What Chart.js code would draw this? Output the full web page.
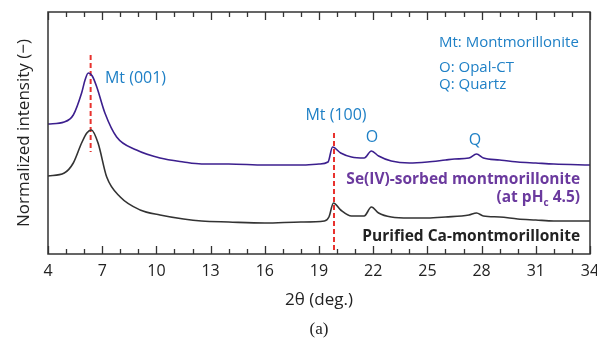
<!DOCTYPE html>
<html>
  <head>
    <meta charset="utf-8" />
    <title>XRD patterns of montmorillonite</title>
    <script src="https://cdn.jsdelivr.net/npm/chart.js@4"></script>
    <style>
      body { margin: 0; background: #fff; }
      #wrap { width: 597px; height: 344px; }
    </style>
  </head>
  <body>
    <div id="wrap"><canvas id="xrdCanvas"></canvas></div>
    <script>
      // 2theta positions and normalized intensity (arbitrary, offset)
      const seTheta = [4.0, 4.9, 5.4, 5.86, 6.05, 6.23, 6.45, 6.7, 7.15, 7.8, 8.9, 10.2, 11.5, 12.5, 14, 16, 18, 19.0, 19.5, 19.75, 20.2, 20.8, 21.5, 21.9, 22.3, 23, 24, 25, 26, 26.5, 27.3, 27.72, 28.1, 29, 30, 31, 32, 34];
      const seIntensity = [130, 132, 139, 161, 174, 181, 178, 167, 141, 117, 104, 96, 92, 90, 90, 89, 89, 90, 92, 107, 101, 97, 96, 103, 98, 93, 91, 92, 94, 95, 96, 100, 96, 94, 92, 91, 90, 89];

      const caTheta = [4.0, 4.9, 5.4, 5.86, 6.15, 6.4, 6.77, 7.25, 8.0, 9.1, 10.2, 11.5, 12.5, 14, 16, 18, 19.3, 19.55, 19.8, 20.2, 20.8, 21.5, 21.9, 22.3, 23, 24, 25, 26, 27.3, 27.72, 28.1, 29, 30, 31, 32, 34];
      const caIntensity = [78, 81, 91, 111, 121, 124, 111, 77, 57, 44, 39, 35, 33, 32, 31, 32, 33, 37, 51, 44, 38, 38, 47, 41, 37, 36, 36, 37, 39, 41, 38, 37, 35, 34, 33, 33];

      // reference peak positions (red dashed markers) and their vertical extents
      const peakTheta = [6.36, 19.83];
      const peakTop = [199, 121];
      const peakBottom = [102, 4];

      const xMin = 4, xMax = 34, xStep = 3;

      function toPoints(xs, ys) {
        return xs.map((x, i) => ({ x: x, y: ys[i] }));
      }

      const blue = "#1f80c6";
      const purpleText = "#6b3a9e";
      const boldFont = "bold 15.5px 'Open Sans'";

      // labels placed in data coordinates
      const labels = [
        { text: "Mt (001)", x: 7.15, y: 176, align: "left", color: blue, font: "16px 'Open Sans'" },
        { text: "Mt (100)", x: 19.94, y: 139, align: "center", color: blue, font: "16px 'Open Sans'" },
        { text: "O", x: 21.93, y: 117, align: "center", color: blue, font: "16px 'Open Sans'" },
        { text: "Q", x: 27.63, y: 114, align: "center", color: blue, font: "16px 'Open Sans'" },
        { text: "Mt: Montmorillonite", x: 25.64, y: 211, align: "left", color: blue, font: "15px 'Open Sans'" },
        { text: "O: Opal-CT", x: 25.64, y: 186, align: "left", color: blue, font: "15px 'Open Sans'" },
        { text: "Q: Quartz", x: 25.64, y: 169, align: "left", color: blue, font: "15px 'Open Sans'" },
        { text: "Se(IV)-sorbed montmorillonite", x: 33.45, y: 74, align: "right", color: purpleText, font: boldFont },
        { text: "Purified Ca-montmorillonite", x: 33.45, y: 17, align: "right", color: "#222", font: boldFont },
      ];

      const decorations = {
        id: "decorations",
        afterDraw(chart) {
          const ctx = chart.ctx;
          const a = chart.chartArea;
          const xs = chart.scales.x;
          const ys = chart.scales.y;
          ctx.save();
          // frame
          ctx.strokeStyle = "#333";
          ctx.lineWidth = 1.5;
          ctx.strokeRect(a.left, a.top, a.right - a.left, a.bottom - a.top);
          // inward ticks top and bottom
          ctx.lineWidth = 1.3;
          for (let v = xMin; v <= xMax; v++) {
            const px = Math.round(xs.getPixelForValue(v)) + 0.5;
            const len = (v - xMin) % xStep === 0 ? 8 : 5;
            ctx.beginPath();
            ctx.moveTo(px, a.bottom);
            ctx.lineTo(px, a.bottom - len);
            ctx.moveTo(px, a.top);
            ctx.lineTo(px, a.top + len);
            ctx.stroke();
          }
          // texts
          ctx.textBaseline = "middle";
          labels.forEach((l) => {
            ctx.font = l.font;
            ctx.fillStyle = l.color;
            ctx.textAlign = l.align;
            ctx.fillText(l.text, xs.getPixelForValue(l.x), ys.getPixelForValue(l.y));
          });
          // "(at pHc 4.5)" with subscript c, right aligned
          const rx = xs.getPixelForValue(33.45);
          const ry = ys.getPixelForValue(56);
          ctx.fillStyle = purpleText;
          ctx.textAlign = "left";
          const small = "bold 10px 'Open Sans'";
          ctx.font = boldFont;
          const p1 = "(at pH", p3 = " 4.5)";
          const w1 = ctx.measureText(p1).width;
          const w3 = ctx.measureText(p3).width;
          ctx.font = small;
          const w2 = ctx.measureText("c").width;
          let sx = rx - (w1 + w2 + w3);
          ctx.font = boldFont;
          ctx.fillText(p1, sx, ry);
          ctx.font = small;
          ctx.fillText("c", sx + w1, ry + 5);
          ctx.font = boldFont;
          ctx.fillText(p3, sx + w1 + w2, ry);
          // caption
          ctx.font = "17px 'Liberation Serif'";
          ctx.fillStyle = "#222";
          ctx.textAlign = "center";
          ctx.fillText("(a)", (a.left + a.right) / 2, 330);
          ctx.restore();
        },
      };

      const peakSets = peakTheta.map((t, i) => ({
        data: [{ x: t, y: peakTop[i] }, { x: t, y: peakBottom[i] }],
        borderColor: "#e8322e",
        borderWidth: 2,
        borderDash: [5, 3],
        pointRadius: 0,
        fill: false,
      }));

      const ctx = document.getElementById("xrdCanvas").getContext("2d");
      new Chart(ctx, {
        type: "line",
        data: {
          datasets: [
            {
              label: "Se(IV)-sorbed montmorillonite",
              data: toPoints(seTheta, seIntensity),
              borderColor: "#3c1f8e",
              borderWidth: 1.6,
              pointRadius: 0,
              cubicInterpolationMode: "monotone",
            },
            {
              label: "Purified Ca-montmorillonite",
              data: toPoints(caTheta, caIntensity),
              borderColor: "#333333",
              borderWidth: 1.6,
              pointRadius: 0,
              cubicInterpolationMode: "monotone",
            },
            ...peakSets,
          ],
        },
        options: {
          responsive: true,
          maintainAspectRatio: false,
          animation: false,
          layout: { padding: { top: 12, right: 7, left: 0, bottom: 34 } },
          plugins: {
            legend: { display: false },
            tooltip: { enabled: false },
          },
          scales: {
            x: {
              type: "linear",
              min: xMin,
              max: xMax,
              grid: { display: false, drawTicks: false },
              border: { display: false },
              ticks: {
                stepSize: xStep,
                color: "#222",
                padding: 8,
                font: { family: "'Open Sans'", size: 16 },
              },
              title: {
                display: true,
                text: "2θ (deg.)",
                color: "#222",
                font: { family: "'Open Sans'", size: 17 },
                padding: { top: 4, bottom: 0 },
              },
              afterFit(scale) {
                scale.height = 56;
                scale.paddingLeft = 0;
                scale.paddingRight = 0;
              },
            },
            y: {
              min: 0,
              max: 242,
              grid: { display: false, drawTicks: false },
              border: { display: false },
              ticks: { display: false },
              title: {
                display: true,
                text: "Normalized intensity (−)",
                color: "#222",
                font: { family: "'Open Sans'", size: 17 },
                padding: { top: 14, bottom: 0 },
              },
              afterFit(scale) {
                scale.width = 48;
                scale.paddingTop = 0;
                scale.paddingBottom = 0;
              },
            },
          },
        },
        plugins: [decorations],
      });
    </script>
  </body>
</html>
